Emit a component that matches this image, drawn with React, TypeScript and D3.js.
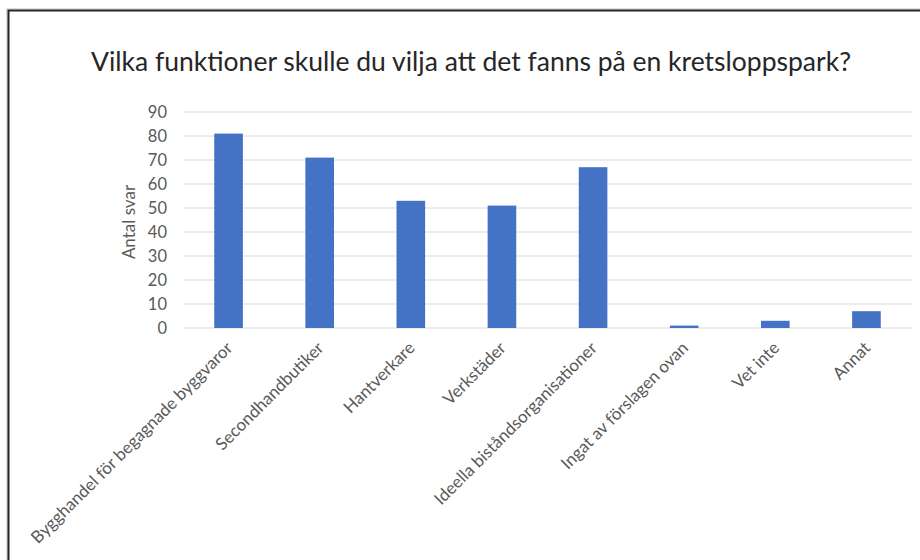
import React from "react";
import { scaleBand, scaleLinear, range } from "d3";

const categories = [
  "Bygghandel för begagnade byggvaror",
  "Secondhandbutiker",
  "Hantverkare",
  "Verkstäder",
  "Ideella biståndsorganisationer",
  "Ingat av förslagen ovan",
  "Vet inte",
  "Annat",
];
const answers = [81, 71, 53, 51, 67, 1, 3, 7];
const yTicks = range(0, 100, 10);

const title = "Vilka funktioner skulle du vilja att det fanns på en kretsloppspark?";
const yLabel = "Antal svar";

const width = 920;
const height = 560;
const plot = { left: 183, right: 912, top: 112, bottom: 328 };
const font = "Lato, 'Open Sans', sans-serif";
const textColor = "#595959";

export default function App() {
  const x = scaleBand<string>()
    .domain(categories)
    .range([plot.left, plot.right])
    .paddingInner(0.686)
    .paddingOuter(0.343);
  const y = scaleLinear().domain([0, 90]).range([plot.bottom, plot.top]);

  return (
    <svg
      width={width}
      height={height}
      style={{ position: "absolute", left: 0, top: 0, background: "#fff" }}
    >
      <rect x={0} y={0} width={width} height={height} fill="#fff" />
      <rect x={7} y={9} width={width + 20} height={height + 20} fill="none" stroke="#bdbdbd" strokeWidth={1} />
      <rect x={8.5} y={10.5} width={width + 20} height={height + 20} fill="none" stroke="#262626" strokeWidth={2} />

      <text
        x={471}
        y={71}
        textAnchor="middle"
        fontFamily={font}
        fontSize={26.5}
        fill="#262626"
      >
        {title}
      </text>

      {yTicks.map((t) => (
        <g key={t}>
          <line
            x1={plot.left}
            x2={plot.right}
            y1={y(t)}
            y2={y(t)}
            stroke="#d9d9d9"
            strokeWidth={1.2}
          />
          <text
            x={plot.left - 16}
            y={y(t)}
            dy="0.36em"
            textAnchor="end"
            fontFamily={font}
            fontSize={16.5}
            fill={textColor}
          >
            {t}
          </text>
        </g>
      ))}

      <text
        transform={`translate(135, ${(plot.top + plot.bottom) / 2 + 2}) rotate(-90)`}
        textAnchor="middle"
        fontFamily={font}
        fontSize={17}
        fill={textColor}
      >
        {yLabel}
      </text>

      {categories.map((c, i) => (
        <rect
          key={c}
          x={x(c)}
          y={y(answers[i])}
          width={x.bandwidth()}
          height={plot.bottom - y(answers[i])}
          fill="#4472c4"
        />
      ))}

      {categories.map((c) => {
        const cx = (x(c) ?? 0) + x.bandwidth() / 2 + 5;
        return (
          <text
            key={c}
            transform={`translate(${cx}, 349) rotate(-45)`}
            textAnchor="end"
            fontFamily={font}
            fontSize={17}
            fill={textColor}
          >
            {c}
          </text>
        );
      })}
    </svg>
  );
}
